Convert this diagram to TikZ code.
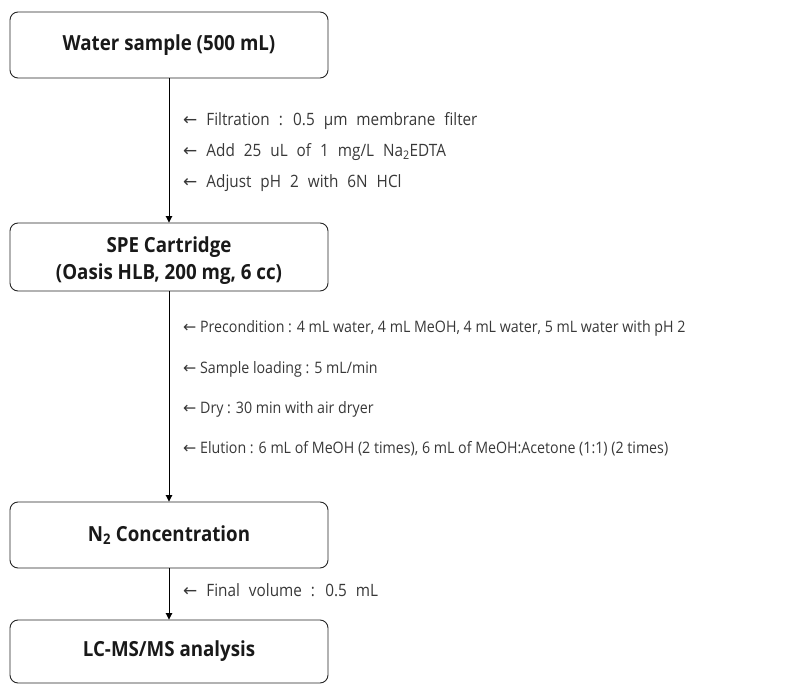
\documentclass[tikz,border=0pt]{standalone}
\usepackage{fontspec}
\setmainfont{Open Sans}
\newfontfamily\arrowfont{DejaVu Sans}
\usetikzlibrary{arrows.meta}
\newcommand\widesp{\spaceskip=9pt plus 1pt\relax}
\begin{document}
\begin{tikzpicture}[x=1pt,y=-1pt,
  box/.style={draw=black!85, rounded corners=8pt, line width=0.9pt, minimum width=318pt,
    align=center, inner sep=0pt, text=black!90,
    font=\bfseries\fontsize{20.8}{27}\selectfont\addfontfeatures{FakeStretch=0.9}},
  lab/.style={anchor=west, inner sep=0pt, text=black!78,
    font=\fontsize{15.8}{18}\selectfont\addfontfeatures{FakeStretch=0.9}},
  labw/.style={anchor=west, inner sep=0pt, text=black!78,
    font=\fontsize{17}{19}\selectfont\addfontfeatures{FakeStretch=0.9}\widesp},
  arr/.style={line width=0.9pt, draw=black, -{Triangle[length=6.5pt,width=6.5pt]}}]
\useasboundingbox (0,0) rectangle (808,684);
\node[box, minimum height=66pt] (b1) at (169,45) {Water sample (500 mL)};
\node[box, minimum height=68pt] (b2) at (169,257) {\rule{0pt}{23pt}SPE Cartridge\\(Oasis HLB, 200 mg, 6 cc)};
\node[box, minimum height=66pt] (b3) at (169,535) {N\textsubscript{2} Concentration};
\node[box, minimum height=63pt] (b4) at (169,651.5) {LC-MS/MS analysis};
\draw[arr] (b1) -- (b2);
\draw[arr] (b2) -- (b3);
\draw[arr] (b3) -- (b4);
\node[labw] (l1) at (183,121) {{\arrowfont ←} Filtration : 0.5 µm membrane filter};
\node[labw] (l2) at (183,152) {{\arrowfont ←} Add 25 uL of 1 mg/L Na\textsubscript{2}EDTA};
\node[labw] (l3) at (183,183) {{\arrowfont ←} Adjust pH 2 with 6N HCl};
\node[lab] (l4) at (183,328) {{\arrowfont ←} Precondition : 4 mL water, 4 mL MeOH, 4 mL water, 5 mL water with pH 2};
\node[lab] (l5) at (183,369) {{\arrowfont ←} Sample loading : 5 mL/min};
\node[lab] (l6) at (183,409) {{\arrowfont ←} Dry : 30 min with air dryer};
\node[lab] (l7) at (183,449) {{\arrowfont ←} Elution : 6 mL of MeOH (2 times), 6 mL of MeOH:Acetone (1:1) (2 times)};
\node[labw] (l8) at (183,590) {{\arrowfont ←} Final volume : 0.5 mL};
\end{tikzpicture}
\end{document}
